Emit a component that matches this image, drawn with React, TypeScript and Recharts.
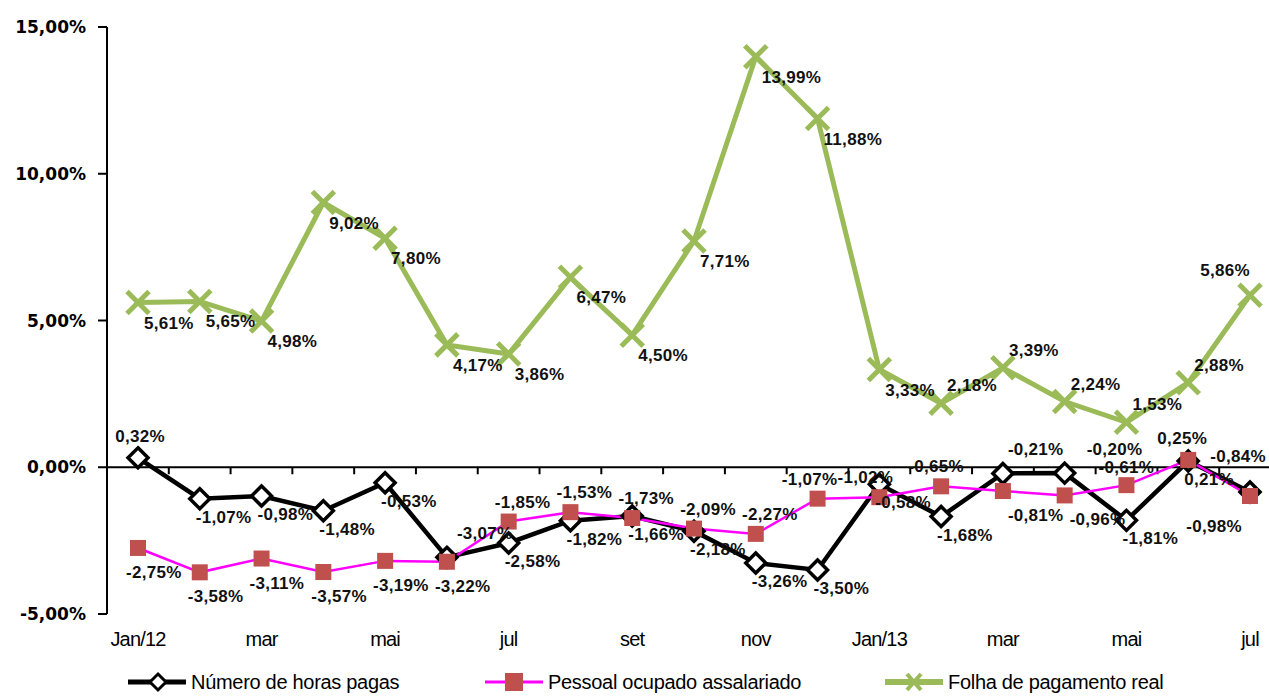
import { LineChart, Line, XAxis, YAxis, ReferenceLine, Legend, LabelList } from "recharts";

const months = ["Jan/12", "fev", "mar", "abr", "mai", "jun", "jul", "ago", "set", "out", "nov", "dez",
  "Jan/13", "fev", "mar", "abr", "mai", "jun", "jul"];

const horasPagas = [0.32, -1.07, -0.98, -1.48, -0.53, -3.07, -2.58, -1.82, -1.66, -2.18, -3.26, -3.5,
  -0.58, -1.68, -0.21, -0.2, -1.81, 0.21, -0.84];
const pessoalOcupado = [-2.75, -3.58, -3.11, -3.57, -3.19, -3.22, -1.85, -1.53, -1.73, -2.09, -2.27, -1.07,
  -1.02, -0.65, -0.81, -0.96, -0.61, 0.25, -0.98];
const folhaPagamento = [5.61, 5.65, 4.98, 9.02, 7.8, 4.17, 3.86, 6.47, 4.5, 7.71, 13.99, 11.88,
  3.33, 2.18, 3.39, 2.24, 1.53, 2.88, 5.86];

const yTicks = [-5, 0, 5, 10, 15];

const data = months.map((m, i) => ({
  mes: m,
  horas: horasPagas[i],
  pessoal: pessoalOcupado[i],
  folha: folhaPagamento[i],
}));

const fmt = (v: number) => v.toFixed(2).replace(".", ",") + "%";

const GREEN = "#9BBB59";
const PINK = "#FF00FF";
const SQUARE = "#C0504D";
const labelFont = "'Liberation Sans', Arial, sans-serif";
const last = months.length - 1;

const Diamond = (props: any) => {
  const { cx, cy } = props;
  if (cx == null || cy == null) return null;
  const r = 10;
  return (
    <polygon
      points={`${cx},${cy - r} ${cx + r},${cy} ${cx},${cy + r} ${cx - r},${cy}`}
      fill="#fff"
      stroke="#000"
      strokeWidth={3.5}
    />
  );
};

const Square = (props: any) => {
  const { cx, cy } = props;
  if (cx == null || cy == null) return null;
  return <rect x={cx - 8} y={cy - 8} width={16} height={16} fill={SQUARE} />;
};

const Cross = (props: any) => {
  const { cx, cy } = props;
  if (cx == null || cy == null) return null;
  const r = 11;
  return (
    <g stroke={GREEN} strokeWidth={5}>
      <line x1={cx - r} y1={cy - r} x2={cx + r} y2={cy + r} />
      <line x1={cx - r} y1={cy + r} x2={cx + r} y2={cy - r} />
    </g>
  );
};

const labelText = (x: number, y: number, v: number, anchor: string = "start") => (
  <text x={x} y={y} textAnchor={anchor} fontSize={17} fontWeight="bold" letterSpacing={0.3}
    fontFamily={labelFont} fill="#111">
    {fmt(v)}
  </text>
);

const folhaLabel = (p: any) => {
  const { x, y, value, index } = p;
  if (index === last) return labelText(x, y - 19, value, "end");
  if (index >= 13) return labelText(x + 6, y - 12, value);
  return labelText(x + 6, y + 26, value);
};

const horasLabel = (p: any) => {
  const { x, y, value, index } = p;
  if (index === 0) return labelText(x + 2, y - 16, value, "middle");
  if (index === 5) return labelText(x + 10, y - 18, value);
  if (index === 14) return labelText(x + 5, y - 18, value);
  if (index === 15) return labelText(x + 22, y - 18, value);
  if (index === last) return labelText(x + 16, y - 30, value, "end");
  return labelText(x - 4, y + 24, value);
};

const pessoalLabel = (p: any) => {
  const { x, y, value, index } = p;
  if (index === last) return labelText(x - 8, y + 36, value, "end");
  if (index < 6) return labelText(x - 12, y + 30, value);
  if (index === 11) return labelText(x - 8, y - 14, value, "middle");
  if (index === 12) return labelText(x - 14, y - 14, value, "middle");
  if (index === 13) return labelText(x - 5, y - 14, value, "middle");
  if (index === 14 || index === 15) return labelText(x + 5, y + 30, value);
  if (index === 16) return labelText(x, y - 12, value, "middle");
  if (index === 17) return labelText(x - 6, y - 16, value, "middle");
  return labelText(x + 14, y - 14, value, "middle");
};

// zero line with the small category ticks hanging under it
const ZeroLine = (props: any) => {
  const { x1, x2, y1 } = props;
  if (x1 == null) return null;
  const w = (x2 - x1) / months.length;
  return (
    <g stroke="#000" strokeWidth={2}>
      <line x1={x1} y1={y1} x2={x2} y2={y1} />
      {months.slice(1).map((_, k) => (
        <line key={k} x1={x1 + w * (k + 1)} y1={y1} x2={x1 + w * (k + 1)} y2={y1 + 7} />
      ))}
    </g>
  );
};

const legendItems = [
  { name: "Número de horas pagas", left: 128, kind: "diamond" },
  { name: "Pessoal ocupado assalariado", left: 485, kind: "square" },
  { name: "Folha de pagamento real", left: 885, kind: "cross" },
];

const LegendContent = () => (
  <div style={{ position: "relative", width: 1269, height: 30 }}>
    {legendItems.map((it) => (
      <div key={it.name} style={{ position: "absolute", left: it.left, top: 0, display: "flex", alignItems: "center" }}>
        <svg width={58} height={24}>
          {it.kind === "diamond" && (
            <>
              <line x1={0} y1={12} x2={58} y2={12} stroke="#000" strokeWidth={5} />
              <polygon points="30,4 38,12 30,20 22,12" fill="#fff" stroke="#000" strokeWidth={3} />
            </>
          )}
          {it.kind === "square" && (
            <>
              <line x1={0} y1={12} x2={58} y2={12} stroke={PINK} strokeWidth={3} />
              <rect x={20} y={3} width={18} height={18} fill={SQUARE} />
            </>
          )}
          {it.kind === "cross" && (
            <>
              <line x1={0} y1={12} x2={58} y2={12} stroke={GREEN} strokeWidth={6} />
              <g stroke={GREEN} strokeWidth={4}>
                <line x1={22} y1={4} x2={36} y2={20} />
                <line x1={22} y1={20} x2={36} y2={4} />
              </g>
            </>
          )}
        </svg>
        <span style={{ marginLeft: 5, fontSize: 20, fontFamily: labelFont, color: "#000", letterSpacing: -0.3 }}>
          {it.name}
        </span>
      </div>
    ))}
  </div>
);

export default function App() {
  return (
    <div style={{ position: "absolute", left: 0, top: 0, width: 1269, height: 700, overflow: "hidden", background: "#fff" }}>
      <LineChart width={1290} height={700} data={data} margin={{ top: 27, right: 9, left: 0, bottom: 0 }}>
        <XAxis
          dataKey="mes"
          interval={1}
          axisLine={false}
          tickLine={false}
          height={56}
          padding={{ left: 31, right: 31 }}
          tick={{ fontSize: 20, fill: "#000", fontFamily: labelFont, letterSpacing: -0.8 }}
          dy={10}
        />
        <YAxis
          domain={[-5, 15]}
          ticks={yTicks}
          width={107}
          tickFormatter={fmt}
          axisLine={{ stroke: "#000", strokeWidth: 2 }}
          tickLine={{ stroke: "#000", strokeWidth: 2 }}
          tickSize={9}
          tickMargin={12}
          tick={{ fontSize: 17, fontWeight: "bold", fill: "#000", fontFamily: "'DejaVu Sans', Verdana, sans-serif" }}
        />
        <ReferenceLine y={0} shape={ZeroLine} />
        <Legend verticalAlign="bottom" height={30} content={LegendContent} wrapperStyle={{ left: 0, bottom: 0 }} />
        <Line
          dataKey="horas"
          name="Número de horas pagas"
          stroke="#000"
          strokeWidth={4.5}
          dot={Diamond}
          isAnimationActive={false}
        >
          <LabelList dataKey="horas" content={horasLabel} />
        </Line>
        <Line
          dataKey="pessoal"
          name="Pessoal ocupado assalariado"
          stroke={PINK}
          strokeWidth={2.5}
          dot={Square}
          isAnimationActive={false}
        >
          <LabelList dataKey="pessoal" content={pessoalLabel} />
        </Line>
        <Line
          dataKey="folha"
          name="Folha de pagamento real"
          stroke={GREEN}
          strokeWidth={5}
          dot={Cross}
          isAnimationActive={false}
        >
          <LabelList dataKey="folha" content={folhaLabel} />
        </Line>
      </LineChart>
    </div>
  );
}
